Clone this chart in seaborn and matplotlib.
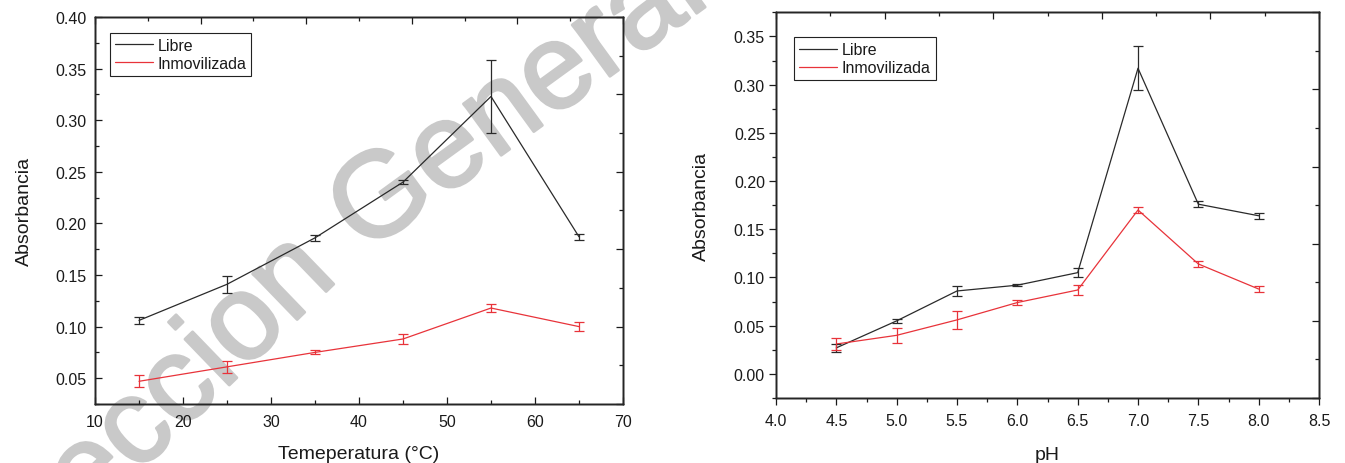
import numpy as np
import pandas as pd
import matplotlib
matplotlib.use("Agg")
import matplotlib.pyplot as plt
import matplotlib.patheffects as pe
from matplotlib.ticker import MultipleLocator, FormatStrFormatter
import seaborn as sns

# ---- data -------------------------------------------------------------
temperatura = [15, 25, 35, 45, 55, 65]
libre_temp = [0.106, 0.141, 0.186, 0.240, 0.323, 0.187]
libre_temp_err = [0.003, 0.008, 0.003, 0.002, 0.035, 0.003]
inmov_temp = [0.047, 0.061, 0.075, 0.088, 0.118, 0.100]
inmov_temp_err = [0.006, 0.006, 0.002, 0.005, 0.004, 0.004]

ph = [4.5, 5.0, 5.5, 6.0, 6.5, 7.0, 7.5, 8.0]
libre_ph = [0.027, 0.055, 0.086, 0.092, 0.105, 0.317, 0.176, 0.164]
libre_ph_err = [0.004, 0.002, 0.005, 0.001, 0.005, 0.023, 0.003, 0.003]
inmov_ph = [0.031, 0.040, 0.056, 0.074, 0.087, 0.170, 0.114, 0.088]
inmov_ph_err = [0.006, 0.008, 0.0095, 0.003, 0.005, 0.003, 0.003, 0.003]

series_names = ["Libre", "Inmovilizada"]

# ---- style ------------------------------------------------------------
BLACK = "#2a2a2a"
RED = "#e8333a"
TEXT = "#1a1a1a"
WATERMARK = "#c9c9c9"
sns.set_theme(style="ticks")
plt.rcParams["font.family"] = ["Liberation Sans", "DejaVu Sans"]
plt.rcParams["axes.linewidth"] = 1.0
plt.rcParams["text.color"] = TEXT
plt.rcParams["axes.labelcolor"] = TEXT
plt.rcParams["xtick.color"] = TEXT
plt.rcParams["ytick.color"] = TEXT

W, H = 1345, 464
fig = plt.figure(figsize=(W / 100, H / 100), dpi=100)
fig.patch.set_facecolor("white")

ax_t = fig.add_axes([95 / W, 1 - 405 / H, 528 / W, 387 / H])
ax_p = fig.add_axes([776 / W, 1 - 399 / H, 543 / W, 385.7 / H])


def draw_panel(ax, x, y1, e1, y2, e2):
    df = pd.DataFrame({
        "x": list(x) * 2,
        "y": list(y1) + list(y2),
        "serie": [series_names[0]] * len(x) + [series_names[1]] * len(x),
    })
    sns.lineplot(data=df, x="x", y="y", hue="serie",
                 palette={series_names[0]: BLACK, series_names[1]: RED},
                 linewidth=0.9, ax=ax, legend=False, sort=False)
    handles = list(ax.lines[:2])
    ax.errorbar(x, y1, yerr=e1, fmt="none", ecolor=BLACK, elinewidth=0.9,
                capsize=3.8, capthick=0.9)
    ax.errorbar(x, y2, yerr=e2, fmt="none", ecolor=RED, elinewidth=0.9,
                capsize=3.8, capthick=0.9)
    ax.set_facecolor("none")
    return handles


def frame_ticks(ax, direction):
    ax.tick_params(which="both", direction=direction, top=False, right=False,
                   labelsize=11.5, width=0.9)
    ax.tick_params(which="major", length=5)
    ax.tick_params(which="minor", length=3)
    # top and right frame ticks on an independent unit scale
    tx = ax.twiny()
    tx.set_xlim(0, 1)
    tx.xaxis.set_major_locator(MultipleLocator(0.2))
    tx.xaxis.set_minor_locator(MultipleLocator(0.1))
    tx.tick_params(which="both", direction="in", labeltop=False, width=0.9)
    tx.tick_params(which="major", length=5)
    tx.tick_params(which="minor", length=3)
    ty = ax.twinx()
    ty.set_ylim(0, 1)
    ty.yaxis.set_major_locator(MultipleLocator(0.2))
    ty.yaxis.set_minor_locator(MultipleLocator(0.1))
    ty.tick_params(which="both", direction="in", labelright=False, width=0.9)
    ty.tick_params(which="major", length=5)
    ty.tick_params(which="minor", length=3)


def add_legend(ax, handles, anchor):
    leg = ax.legend(handles, series_names, loc="upper left",
                    bbox_to_anchor=anchor, borderaxespad=0, fontsize=11.5,
                    frameon=True, fancybox=False, framealpha=1,
                    edgecolor="#222222", handlelength=2.4, handletextpad=0.3,
                    labelspacing=0.2, borderpad=0.3)
    leg.get_frame().set_linewidth(0.8)
    leg.set_zorder(5)


# ---- temperature panel -------------------------------------------------
h = draw_panel(ax_t, temperatura, libre_temp, libre_temp_err,
               inmov_temp, inmov_temp_err)
ax_t.set_xlim(10, 70)
ax_t.set_ylim(0.025, 0.40)
ax_t.xaxis.set_major_locator(MultipleLocator(10))
ax_t.xaxis.set_minor_locator(MultipleLocator(5))
ax_t.yaxis.set_major_locator(MultipleLocator(0.05))
ax_t.yaxis.set_minor_locator(MultipleLocator(0.025))
ax_t.yaxis.set_major_formatter(FormatStrFormatter("%.2f"))
ax_t.set_xlabel("Temeperatura (°C)", fontsize=14, labelpad=12)
ax_t.set_ylabel("Absorbancia", fontsize=14, labelpad=16)
ax_t.tick_params(axis="x", pad=7)
ax_t.tick_params(axis="y", pad=6)
add_legend(ax_t, h, (0.028, 0.959))
frame_ticks(ax_t, "in")

# ---- pH panel ----------------------------------------------------------
h = draw_panel(ax_p, ph, libre_ph, libre_ph_err, inmov_ph, inmov_ph_err)
ax_p.set_xlim(4.0, 8.5)
ax_p.set_ylim(-0.025, 0.375)
ax_p.xaxis.set_major_locator(MultipleLocator(0.5))
ax_p.xaxis.set_minor_locator(MultipleLocator(0.25))
ax_p.xaxis.set_major_formatter(FormatStrFormatter("%.1f"))
ax_p.yaxis.set_major_locator(MultipleLocator(0.05))
ax_p.yaxis.set_minor_locator(MultipleLocator(0.025))
ax_p.yaxis.set_major_formatter(FormatStrFormatter("%.2f"))
ax_p.set_xlabel("pH", fontsize=14, labelpad=13)
ax_p.set_ylabel("Absorbancia", fontsize=14, labelpad=17)
ax_p.tick_params(axis="x", pad=6)
ax_p.tick_params(axis="y", pad=3)
add_legend(ax_p, h, (0.033, 0.935))
frame_ticks(ax_p, "out")

# ---- library watermark (gently curved: two runs at different angles) ---
wm_kw = dict(fontsize=87, color=WATERMARK, rotation_mode="anchor",
             va="baseline", zorder=-5,
             path_effects=[pe.Stroke(linewidth=2, foreground=WATERMARK),
                           pe.Normal()])
wm_x, wm_y = 364 / W, 1 - 256 / H
fig.text(wm_x, wm_y, "General de Bibliotecas", ha="left", rotation=36, **wm_kw)
fig.text(wm_x, wm_y, "Direccion ", ha="right", rotation=44, **wm_kw)

fig.savefig("out.png", dpi=100, facecolor="white")
